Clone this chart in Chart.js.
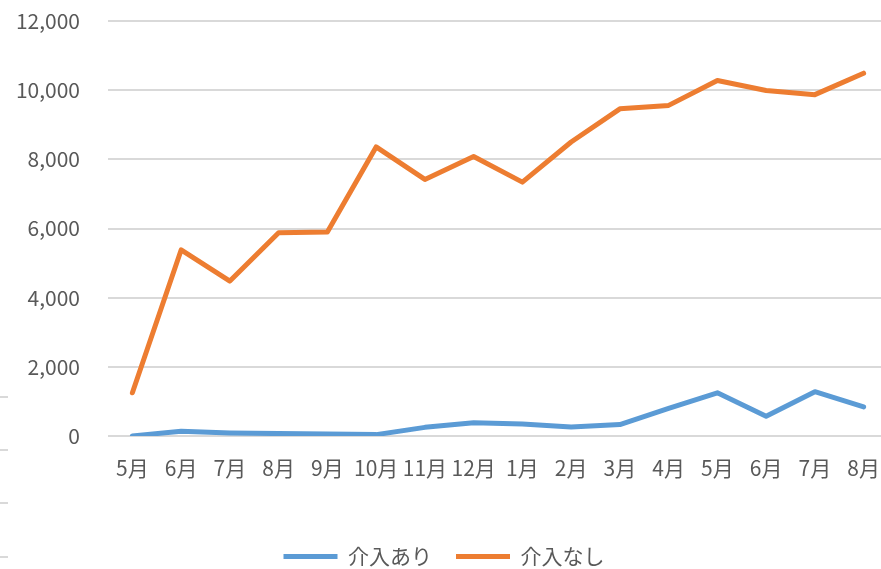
<!DOCTYPE html>
<html>
<head>
<meta charset="utf-8">
<script src="https://cdn.jsdelivr.net/npm/chart.js@4/dist/chart.umd.min.js"></script>
<style>
  html, body { margin: 0; padding: 0; background: #fff; overflow: hidden; width: 881px; height: 569px; }
  #wrap { position: absolute; left: 0; top: 0; width: 900px; height: 577px; }
  .stray { position: absolute; left: 0; width: 8px; height: 2px; background: #d9d9d9; }
</style>
</head>
<body>
<div id="wrap"><canvas id="c" width="900" height="577"></canvas></div>
<div class="stray" style="top:396px"></div>
<div class="stray" style="top:449px"></div>
<div class="stray" style="top:502px"></div>
<div class="stray" style="top:556px"></div>
<script>
const categories = ['5月','6月','7月','8月','9月','10月','11月','12月','1月','2月','3月','4月','5月','6月','7月','8月'];
const seriesNames = ['介入あり', '介入なし'];
const withIntervention = [0, 140, 90, 70, 60, 40, 250, 380, 350, 260, 330, 800, 1250, 570, 1280, 840];
const withoutIntervention = [1250, 5380, 4480, 5880, 5900, 8360, 7420, 8080, 7340, 8500, 9460, 9560, 10280, 9990, 9870, 10490];
const yTicks = [0, 2000, 4000, 6000, 8000, 10000, 12000];

const textColor = '#595959';
const fontFamily = '"Noto Sans CJK JP", "Noto Sans", sans-serif';

new Chart(document.getElementById('c'), {
  type: 'line',
  data: {
    labels: categories,
    datasets: [
      { label: seriesNames[0], data: withIntervention, borderColor: '#5B9BD5', backgroundColor: '#5B9BD5',
        borderWidth: 5, pointRadius: 0, pointHoverRadius: 0, tension: 0, borderCapStyle: 'round', borderJoinStyle: 'round', pointStyle: 'line' },
      { label: seriesNames[1], data: withoutIntervention, borderColor: '#ED7D31', backgroundColor: '#ED7D31',
        borderWidth: 5, pointRadius: 0, pointHoverRadius: 0, tension: 0, borderCapStyle: 'round', borderJoinStyle: 'round', pointStyle: 'line' }
    ]
  },
  options: {
    responsive: false,
    animation: false,
    devicePixelRatio: 1,
    layout: { padding: { top: 21, right: 12, left: 0, bottom: 0 } },
    plugins: {
      legend: {
        position: 'bottom',
        labels: {
          usePointStyle: true,
          pointStyleWidth: 54,
          color: textColor,
          font: { family: fontFamily, size: 21 },
          padding: 24
        }
      },
      tooltip: { enabled: false }
    },
    scales: {
      x: {
        offset: true,
        afterFit: (scale) => { scale.height = 86; },
        grid: { display: false, drawTicks: false },
        border: { display: false },
        ticks: { color: textColor, font: { family: fontFamily, size: 21 }, padding: 19, maxRotation: 0, autoSkip: false }
      },
      y: {
        min: 0, max: 12000,
        afterBuildTicks: (scale) => { scale.ticks = yTicks.map(v => ({ value: v })); },
        afterFit: (scale) => { scale.width = 108; },
        grid: { color: '#d9d9d9', lineWidth: 2, drawTicks: true, tickLength: 28, tickColor: 'rgba(0,0,0,0)' },
        border: { display: false },
        ticks: {
          color: textColor, font: { family: fontFamily, size: 21 }, padding: 0,
          callback: (v) => Number(v).toLocaleString('en-US')
        }
      }
    }
  }
});
</script>
</body>
</html>
